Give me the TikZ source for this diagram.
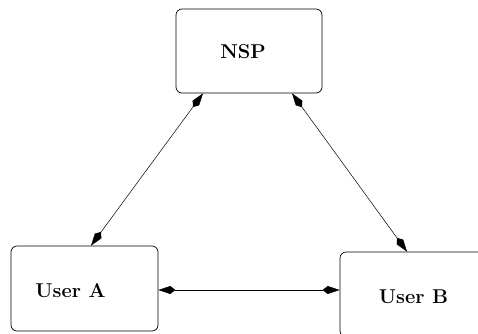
\documentclass[tikz,border=0pt]{standalone}
\usetikzlibrary{arrows.meta}
\begin{document}
\begin{tikzpicture}[x=1pt,y=1pt,
	party/.style={draw,rounded corners=6pt,minimum width=147pt,minimum height=85pt,line width=0.7pt},
	partyname/.style={font=\fontsize{20}{24}\selectfont\bfseries},
	link/.style={line width=0.5pt,{Kite[length=17pt,width=8pt,inset=5pt]}-{Kite[length=17pt,width=8pt,inset=5pt]}}]

\useasboundingbox (0,0) rectangle (478,333);

\node[party,minimum width=146pt,minimum height=84pt] (nsp) at (249,282) {};
\node[party] (usera) at (84.5,44.5) {};
\node[party] (userb) at (413.5,38.5) {};

\node[partyname] (nsplabel) at ([xshift=-6pt,yshift=-1pt]nsp.center) {NSP};
\node[partyname] (useralabel) at ([xshift=-14pt,yshift=-2pt]usera.center) {User A};
\node[partyname] (userblabel) at ([yshift=-2pt]userb.center) {User B};

\coordinate (nspleft) at ([xshift=-46pt]nsp.south);
\coordinate (nspright) at ([xshift=43pt]nsp.south);
\coordinate (useratop) at ([xshift=6.5pt]usera.north);
\coordinate (userbtop) at ([xshift=-6.5pt]userb.north);

\draw[link] (nspleft) -- (useratop);
\draw[link] (nspright) -- (userbtop);
\draw[link] ([yshift=-1.5pt]usera.east) -- ([yshift=-1.5pt]usera.east -| userb.west);

\end{tikzpicture}
\end{document}
